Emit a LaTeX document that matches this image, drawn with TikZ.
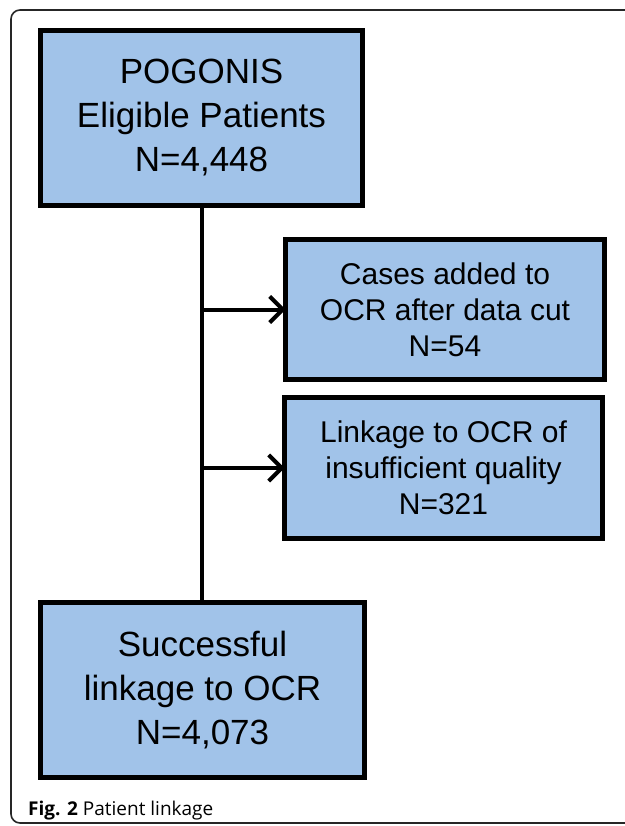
\documentclass[tikz,border=0pt]{standalone}
\usepackage{fontspec}
\setmainfont{Liberation Sans}
\newfontfamily\capfont{Open Sans}
\usetikzlibrary{arrows.meta}
\definecolor{boxblue}{RGB}{161,195,233}
\tikzset{
  flowbox/.style={draw=black, line width=5pt, fill=boxblue, align=center,
    inner sep=0pt, outer sep=0pt, text=black},
  bigtext/.style={font=\fontsize{35}{44}\selectfont},
  smalltext/.style={font=\fontsize{30}{36}\selectfont},
  link/.style={line width=4pt, black},
  branch/.style={link, -{Straight Barb[length=13pt, width=26pt, line width=4pt]}},
  frame/.style={line width=1.6pt, draw=black!85, rounded corners=9pt}
}
\begin{document}
\begin{tikzpicture}[x=1pt, y=-1pt]
  \useasboundingbox (0,0) rectangle (624,826);
  % outer figure frame, open to the right and bottom
  \draw[frame] (700,10) -- (11,10) -- (11,823) -- (700,823);

  % flow boxes (outer edges include half of the border width)
  \node[flowbox, bigtext, minimum width=322pt, minimum height=175pt]
    (elig) at (201.5,118) {POGONIS\\Eligible Patients\\N=4,448};
  \node[flowbox, smalltext, minimum width=319pt, minimum height=140pt]
    (added) at (445,309.5) {Cases added to\\OCR after data cut\\N=54};
  \node[flowbox, smalltext, minimum width=318pt, minimum height=141pt]
    (poor) at (443.5,468) {Linkage to OCR of\\insufficient quality\\N=321};
  \node[flowbox, bigtext, minimum width=324pt, minimum height=175pt]
    (linked) at (202.5,690) {Successful\\linkage to OCR\\N=4,073};

  % trunk and side branches
  \coordinate (b1) at (202,309.5);
  \coordinate (b2) at (202,468);
  \draw[link] (elig.south -| b1) -- (linked.north -| b1);
  \draw[branch] (b1) -- (added.west);
  \draw[branch] (b2) -- (poor.west);

  % caption
  \node[anchor=base west, inner sep=0pt, font=\capfont\fontsize{19}{22}\selectfont]
    (cap) at (28,815) {\textbf{Fig. 2} Patient linkage};
\end{tikzpicture}
\end{document}
